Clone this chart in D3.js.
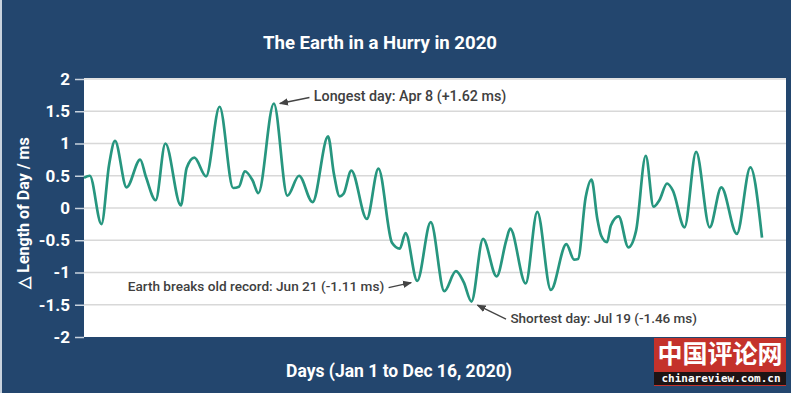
<!DOCTYPE html>
<html lang="en">
<head>
  <meta charset="UTF-8" />
  <title>The Earth in a Hurry in 2020</title>
  <style>
    body { margin:0; background:#23466e; overflow:hidden; }
    #chart { display:block; }
    text { font-family: Roboto, "Noto Sans", sans-serif; }
  </style>
</head>
<body>
  <svg id="chart" width="791" height="393"></svg>

  <script src="https://d3js.org/d3.v7.min.js"></script>
  <script>
  // day of year (Jan 1 = 1) and change in length of day (ms)
  const days = [1, 4, 10, 14, 17, 23, 30, 33, 38, 43, 51, 54, 58, 64, 71, 78, 81, 84, 88, 91,
                99, 106, 112, 119, 127, 130, 133, 135, 139, 147, 153, 160, 164, 167, 173, 180,
                187, 193, 197, 201, 207, 214, 219, 221, 229, 235, 242, 250, 254, 256, 260, 263,
                266, 268, 271, 273, 277, 282, 286, 291, 295, 298, 302, 305, 311, 317, 324, 330,
                338, 345, 351];
  const lod  = [0.47, 0.50, -0.25, 0.68, 1.04, 0.32, 0.75, 0.48, 0.12, 1.00, 0.04, 0.62, 0.78, 0.49, 1.57, 0.31, 0.33, 0.57, 0.43, 0.23,
                1.62, 0.19, 0.50, 0.09, 1.11, 0.53, 0.18, 0.22, 0.58, -0.17, 0.61, -0.54, -0.63, -0.39, -1.13, -0.22,
                -1.29, -0.98, -1.15, -1.45, -0.48, -1.06, -0.50, -0.32, -1.17, -0.06, -1.27, -0.56, -0.80, -0.79, 0.17, 0.44,
                -0.17, -0.43, -0.53, -0.27, -0.13, -0.61, -0.35, 0.81, 0.02, 0.12, 0.38, 0.27, -0.30, 0.87, -0.30, 0.32,
                -0.40, 0.63, -0.46];
  const yTicks = [-2, -1.5, -1, -0.5, 0, 0.5, 1, 1.5, 2];

  const notes = [
    {day: 99,  val: 1.62,  text: "Longest day: Apr 8 (+1.62 ms)",              dx: 38,  dy: -6,  side: "right", size: 14.3},
    {day: 173, val: -1.11, text: "Earth breaks old record: Jun 21 (-1.11 ms)", dx: -31, dy: 8,   side: "left",  size: 13.6},
    {day: 201, val: -1.46, text: "Shortest day: Jul 19 (-1.46 ms)",            dx: 37,  dy: 17,  side: "right", size: 13.5}
  ];

  const svg = d3.select("#chart");
  const W = 791, H = 393;
  const m = {left:84, right:786, top:79, bottom:337};

  const x = d3.scaleLinear().domain([1, 351]).range([m.left, 762]);
  const y = d3.scaleLinear().domain([-2, 2]).range([m.bottom, m.top]);

  svg.append("rect").attr("width", W).attr("height", H).attr("fill", "#23466e");
  svg.append("rect").attr("width", 2).attr("height", H).attr("fill", "#c9d3de");

  // plot background
  svg.append("rect")
     .attr("x", m.left).attr("y", m.top - 1)
     .attr("width", m.right - m.left).attr("height", m.bottom - m.top + 1)
     .attr("fill", "#fff");

  // grid
  svg.append("g").selectAll("line").data(yTicks.slice(1)).join("line")
     .attr("x1", m.left).attr("x2", m.right)
     .attr("y1", d => y(d)).attr("y2", d => y(d))
     .attr("stroke", "#d8d8d8").attr("stroke-width", 1.5);

  // y axis
  const gy = svg.append("g").attr("transform", `translate(${m.left},0)`)
     .call(d3.axisLeft(y).tickValues(yTicks).tickSize(9).tickPadding(5)
             .tickFormat(d => String(d)));
  gy.select(".domain").remove();
  gy.selectAll(".tick line").attr("stroke", "#c9d3de").attr("stroke-width", 1.5);
  gy.selectAll(".tick text")
    .attr("fill", "#fff").style("font-size", "17px").style("font-weight", "700")
    .attr("font-family", null);

  // title + axis labels
  svg.append("text")
     .attr("x", 380).attr("y", 44).attr("text-anchor", "middle")
     .attr("dominant-baseline", "middle")
     .style("font-size", "18.6px").style("font-weight", "700").attr("fill", "#fff")
     .text("The Earth in a Hurry in 2020");
  svg.append("text")
     .attr("x", 399).attr("y", 372).attr("text-anchor", "middle")
     .attr("dominant-baseline", "middle")
     .style("font-size", "17.5px").style("font-weight", "700").attr("fill", "#fff")
     .text("Days (Jan 1 to Dec 16, 2020)");
  svg.append("text")
     .attr("transform", "translate(25,213) rotate(-90)")
     .attr("text-anchor", "middle").attr("dominant-baseline", "middle")
     .style("font-size", "16px").style("font-weight", "700").attr("fill", "#fff")
     .text("△ Length of Day / ms");

  // the series
  const pts = days.map((d, i) => ({day: d, val: lod[i]}));
  svg.append("path")
     .datum(pts)
     .attr("fill", "none").attr("stroke", "#27967f").attr("stroke-width", 2.7)
     .attr("stroke-linejoin", "round")
     .attr("d", d3.line().x(d => x(d.day)).y(d => y(d.val)).curve(d3.curveMonotoneX));

  // annotations
  svg.append("defs").append("marker")
     .attr("id", "head").attr("viewBox", "0 0 10 10")
     .attr("refX", 9).attr("refY", 5)
     .attr("markerWidth", 7).attr("markerHeight", 7)
     .attr("orient", "auto-start-reverse")
     .append("path").attr("d", "M0,1 L10,5 L0,9 Z").attr("fill", "#444");

  notes.forEach(n => {
    const px = x(n.day), py = y(n.val);
    const off = n.side === "right" ? 6 : -6;
    const hx = px + off, hy = py + (n.dy > 0 ? 3 : 0);
    const tx = px + n.dx, ty = py + n.dy;
    svg.append("line")
       .attr("x1", tx - off * 0.4).attr("y1", ty)
       .attr("x2", hx).attr("y2", hy)
       .attr("stroke", "#444").attr("stroke-width", 1.3)
       .attr("marker-end", "url(#head)");
    svg.append("text")
       .attr("x", tx + (n.side === "right" ? 2 : -2)).attr("y", ty)
       .attr("text-anchor", n.side === "right" ? "start" : "end")
       .attr("dominant-baseline", "middle")
       .style("font-size", n.size + "px").style("font-weight", "500").attr("fill", "#404040")
       .text(n.text);
  });

  // watermark
  const wm = svg.append("g");
  wm.append("rect").attr("x", 654).attr("y", 338).attr("width", 132).attr("height", 48).attr("fill", "#c4322b");
  wm.append("rect").attr("x", 654).attr("y", 372).attr("width", 132).attr("height", 13).attr("fill", "#1e1414");
  wm.append("text").attr("x", 720).attr("y", 356).attr("text-anchor", "middle")
    .attr("dominant-baseline", "middle")
    .style("font-family", "'Noto Sans CJK SC'").style("font-size", "25px").style("font-weight", "700")
    .attr("fill", "#fff").text("中国评论网");
  wm.append("text").attr("x", 721).attr("y", 379).attr("text-anchor", "middle")
    .attr("dominant-baseline", "middle")
    .style("font-family", "'DejaVu Sans Mono'").style("font-size", "11px").style("font-weight", "700")
    .attr("fill", "#fff").text("chinareview.com.cn");
  </script>
</body>
</html>
